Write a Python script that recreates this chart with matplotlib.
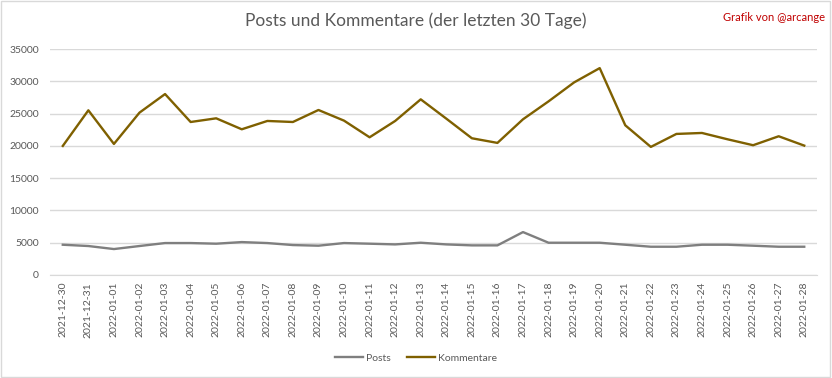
import matplotlib.pyplot as plt
from matplotlib.patches import Rectangle

dates = ["2021-12-30", "2021-12-31"] + ["2022-01-%02d" % d for d in range(1, 29)]
posts = [4690, 4490, 4020, 4490, 4950, 4950, 4850, 5100, 4950, 4640,
         4540, 4950, 4850, 4740, 5000, 4740, 4590, 4590, 6650, 5000,
         5000, 5000, 4690, 4380, 4380, 4690, 4690, 4540, 4380, 4380]
kommentare = [20000, 25520, 20310, 25160, 28040, 23710, 24280, 22580, 23870, 23710,
              25570, 23920, 21340, 23870, 27220, 24230, 21190, 20470, 24130, 26910,
              29850, 32060, 23200, 19850, 21860, 22010, 21030, 20110, 21500, 20050]

plt.rcParams['font.family'] = ['Lato', 'DejaVu Sans']

fig = plt.figure(figsize=(8.32, 3.78), dpi=100)
ax = fig.add_axes([0.0601, 0.2725, 0.9219, 0.5975])

x = range(len(dates))
ax.plot(x, posts, color='#7f7f7f', lw=1.7, label='Posts')
ax.plot(x, kommentare, color='#7f6000', lw=1.7, label='Kommentare')

ax.set_xlim(-0.5, len(dates) - 0.5)
ax.set_ylim(0, 35000)
ax.set_yticks(range(0, 35001, 5000))
ax.set_xticks(list(x))
ax.set_xticklabels(dates, rotation=90, fontsize=7.5, color='#595959')
ax.tick_params(axis='y', labelsize=7.5, labelcolor='#595959', length=0, pad=8)
ax.tick_params(axis='x', length=0, pad=5)
ax.grid(axis='y', color='#d9d9d9', lw=1)
ax.set_axisbelow(True)
for s in ['top', 'right', 'left']:
    ax.spines[s].set_visible(False)
ax.spines['bottom'].set_color('#d9d9d9')

fig.text(0.5, 0.945, 'Posts und Kommentare (der letzten 30 Tage)', ha='center', va='center',
         fontsize=12.5, color='#595959')
fig.text(0.992, 0.955, 'Grafik von @arcange', ha='right', va='center', fontsize=8, color='#c00000')

fig.legend(loc='center', bbox_to_anchor=(0.5, 0.053), ncol=2, frameon=False, fontsize=7.5,
           handlelength=2.7, columnspacing=1.5, handletextpad=0.3, labelcolor='#595959')

fig.add_artist(Rectangle((0.001, 0.002), 0.997, 0.995, transform=fig.transFigure,
                         fill=False, edgecolor='#d9d9d9', lw=1))

fig.savefig('out.png', dpi=100)
